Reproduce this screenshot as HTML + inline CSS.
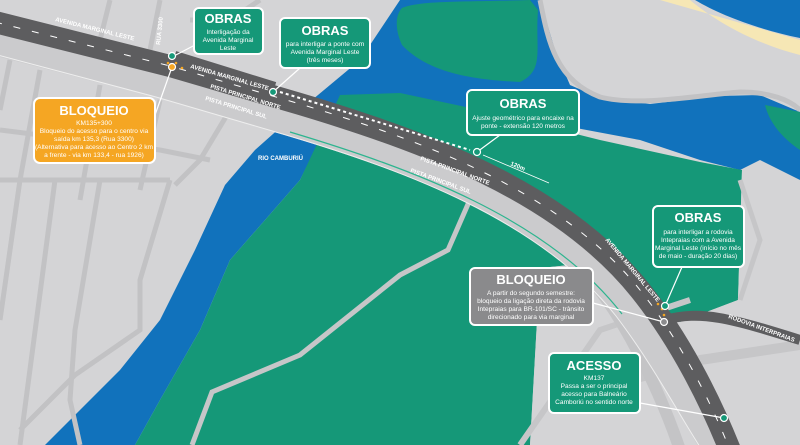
<!DOCTYPE html>
<html><head><meta charset="utf-8"><style>
html,body{margin:0;padding:0;width:800px;height:445px;overflow:hidden;background:#d4d4d6}
svg{display:block}
text{font-family:"Liberation Sans",sans-serif}
.t{font-size:13px;font-weight:bold;fill:#fff;text-anchor:middle}
.s{font-size:6.6px;fill:#fff;text-anchor:middle}
.r{font-size:6px;fill:#fff;font-weight:bold}
.l{font-size:6px;fill:#fff;font-weight:bold}
</style></head><body>
<svg width="800" height="445" viewBox="0 0 800 445">
<rect width="800" height="445" fill="#d4d4d6"/>
<!-- river -->
<path d="M400,0 L800,0 L800,180 L760,160 L740,170 L700,160 L640,140 L560,125 L480,110 L400,95 L330,120 L300,180 L230,260 L200,330 L160,400 L135,445 L45,445 L80,410 L120,370 L160,320 L195,250 L225,185 L255,150 L300,110 L360,60 Z" fill="#1172bc"/>
<!-- grey land top right -->
<path d="M540,0 L800,0 L800,112 L760,95 L720,96 L650,104 L600,98 L570,85 L555,50 Z" fill="#d4d4d6"/>
<path d="M540,0 C548,40 555,80 600,97 C640,107 700,95 740,92 C770,92 790,100 800,110" fill="none" stroke="#c2c2c4" stroke-width="5"/>
<path d="M660,0 L800,40 L800,55 C760,45 720,25 690,0 Z" fill="#f6e7b5"/>
<path d="M695,0 L800,0 L800,38 C760,30 720,15 695,0 Z" fill="#1172bc"/>
<path d="M765,105 L800,112 L800,150 C785,140 770,125 765,105 Z" fill="#159878"/>
<!-- green island -->
<path d="M402,8 C420,0 470,2 530,0 L538,10 C535,50 545,70 520,82 C480,80 430,75 402,45 C395,30 395,15 402,8 Z" fill="#159878"/>
<!-- main green -->
<path d="M340,95 L400,93 L480,110 L600,140 L700,162 L742,170 L738,300 L680,322 L640,300 L600,262 L540,268 L530,445 L135,445 L160,400 L200,330 L230,260 L300,180 Z" fill="#159878"/>
<!-- grey lower right -->
<path d="M742,170 L800,180 L800,445 L600,445 L600,262 L640,300 L680,322 L738,300 Z" fill="#d4d4d6"/>
<path d="M540,268 L600,262 L610,445 L530,445 Z" fill="#d4d4d6"/>
<path d="M520,445 L600,330 L690,300" fill="none" stroke="#c6c6c8" stroke-width="6"/>
<path d="M560,400 L700,360 L800,345" fill="none" stroke="#c6c6c8" stroke-width="10"/>
<path d="M740,180 L760,240 L740,300" fill="none" stroke="#c6c6c8" stroke-width="5"/>
<!-- left grey roads -->
<g fill="none" stroke="#c2c2c4" stroke-width="5">
<path d="M20,180 L0,320"/><path d="M55,180 L20,445"/><path d="M100,180 L75,330 L70,400 L80,445"/>
<path d="M170,180 L140,280 L140,330 L75,375 L20,430"/>
<path d="M10,60 L0,110"/><path d="M40,70 L20,180"/><path d="M100,85 L80,200"/><path d="M160,100 L140,190"/>
<path d="M0,130 L160,150 L210,160"/><path d="M0,180 L170,180"/>
<path d="M110,0 L100,40"/><path d="M160,0 L150,50"/><path d="M190,20 L230,20 L260,0"/>
<path d="M230,110 L200,160 L175,185"/>
</g>
<!-- green roads -->
<path d="M472,195 L448,250 L400,275 L300,355 L212,392 L192,445" fill="none" stroke="#c6c6c8" stroke-width="5"/>
<!-- branch road -->
<path d="M340,142 C440,150 560,220 620,320 C650,370 670,420 680,450" fill="none" stroke="#c4c4c6" stroke-width="12"/>
<!-- light band -->
<path d="M-10,40 L160,84 L290,122 C410,158 548,208 626,306 C664,356 694,410 716,450" fill="none" stroke="#cbcbcd" stroke-width="28"/>
<path d="M-10,53 L156,97 L286,135 C404,170 540,220 616,316 C654,366 682,420 702,450" fill="none" stroke="#eeeeee" stroke-width="1"/>
<path d="M290,132 C410,168 548,218 622,314" fill="none" stroke="#2db58f" stroke-width="1.2"/>
<!-- dark road -->
<path id="rd" d="M-5,22 L170,66 L300,104 C420,140 560,190 640,290 C680,340 710,400 730,450" fill="none" stroke="#5d5d5f" stroke-width="22"/>
<path d="M-5,22 L170,66 L300,104 C420,140 560,190 640,290 C680,340 710,400 730,450" fill="none" stroke="#fff" stroke-width="1" stroke-dasharray="7,12"/>
<path d="M280,92 L470,150" fill="none" stroke="#fff" stroke-width="2" stroke-dasharray="3,3"/>
<path d="M175,55 L275,86" fill="none" stroke="#5d5d5f" stroke-width="8"/>
<!-- interpraias -->
<path d="M665,320 C700,310 730,318 800,340" fill="none" stroke="#5d5d5f" stroke-width="10"/>
<!-- road labels -->
<text class="r" transform="translate(55,21) rotate(14)">AVENIDA MARGINAL LESTE</text>
<text class="r" transform="translate(190,68) rotate(16)" font-size="7">AVENIDA MARGINAL LESTE</text>
<text class="l" transform="translate(210,88) rotate(17)" font-size="4">PISTA PRINCIPAL NORTE</text>
<text class="l" transform="translate(205,100) rotate(17)" font-size="4">PISTA PRINCIPAL SUL</text>
<text class="l" transform="translate(420,160) rotate(20)" font-size="4">PISTA PRINCIPAL NORTE</text>
<text class="l" transform="translate(410,172) rotate(20)" font-size="4">PISTA PRINCIPAL SUL</text>
<text class="r" transform="translate(605,240) rotate(50)">AVENIDA MARGINAL LESTE</text>
<text class="r" transform="translate(728,318) rotate(20)" font-size="5.5">RODOVIA INTERPRAIAS</text>
<text class="r" transform="translate(160,45) rotate(-84)" fill="#fff">RUA 3300</text>
<text class="r" x="258" y="160">RIO CAMBURIÚ</text>
<path d="M483,155 L549,183" stroke="#fff" stroke-width="0.8"/>
<text class="l" transform="translate(510,165) rotate(23)" font-size="4">120m</text>
<!-- orange marks -->
<g fill="#f5a623"><circle cx="168" cy="63" r="1.3"/><circle cx="176" cy="63" r="1.3"/><circle cx="182" cy="68" r="1.3"/><circle cx="662" cy="309" r="1.3"/><circle cx="658" cy="304" r="1.3"/><circle cx="664" cy="315" r="1.3"/></g>
<!-- leader lines -->
<g stroke="#fff" stroke-width="1.2">
<line x1="172" y1="57" x2="195" y2="45"/><line x1="273" y1="92" x2="300" y2="68"/>
<line x1="172" y1="67" x2="155" y2="115"/><line x1="477" y1="152" x2="500" y2="135"/>
<line x1="665" y1="306" x2="682" y2="267"/><line x1="593" y1="303" x2="664" y2="322"/>
<line x1="640" y1="403" x2="724" y2="418"/>
</g>
<g stroke="#fff" stroke-width="1.2">
<circle cx="172" cy="56" r="3.5" fill="#159878"/><circle cx="172" cy="67" r="3.5" fill="#f5a623"/>
<circle cx="273" cy="92" r="3.5" fill="#159878"/><circle cx="477" cy="152" r="3.5" fill="#159878"/>
<circle cx="665" cy="306" r="3.5" fill="#159878"/><circle cx="664" cy="322" r="3.5" fill="#8a8a8c"/>
<circle cx="724" cy="418" r="3.5" fill="#159878"/>
</g>
<!-- callouts -->
<g stroke="#fff" stroke-width="2">
<rect x="194" y="8" width="69" height="46" rx="5" fill="#159878"/>
<rect x="280" y="18" width="90" height="50" rx="5" fill="#159878"/>
<rect x="34" y="98" width="121" height="65" rx="6" fill="#f5a623"/>
<rect x="467" y="90" width="112" height="45" rx="5" fill="#159878"/>
<rect x="653" y="206" width="91" height="61" rx="5" fill="#159878"/>
<rect x="470" y="268" width="123" height="57" rx="5" fill="#8a8a8c"/>
<rect x="549" y="353" width="91" height="60" rx="5" fill="#159878"/>
</g>
<text class="t" x="228" y="23">OBRAS</text>
<text class="s" x="228" y="34">Interligação da</text><text class="s" x="228" y="42">Avenida  Marginal</text><text class="s" x="228" y="50">Leste</text>
<text class="t" x="325" y="35">OBRAS</text>
<text class="s" x="325" y="46">para interligar a ponte com</text><text class="s" x="325" y="54">Avenida Marginal Leste</text><text class="s" x="325" y="62">(três meses)</text>
<text class="t" x="94" y="115" font-size="14">BLOQUEIO</text>
<text class="s" x="94" y="125">KM135+300</text><text class="s" x="94" y="133">Bloqueio do acesso para o centro via</text><text class="s" x="94" y="141">saída km 135,3 (Rua 3300)</text><text class="s" x="94" y="149">(Alternativa para acesso ao Centro 2 km</text><text class="s" x="94" y="157">a frente - via km 133,4 - rua 1926)</text>
<text class="t" x="523" y="108">OBRAS</text>
<text class="s" x="523" y="120">Ajuste geométrico para encaixe na</text><text class="s" x="523" y="128">ponte - extensão 120 metros</text>
<text class="t" x="698" y="222">OBRAS</text>
<text class="s" x="698" y="234">para interligar a rodovia</text><text class="s" x="698" y="242">Intepraias com a Avenida</text><text class="s" x="698" y="250">Marginal Leste (início no mês</text><text class="s" x="698" y="258">de maio - duração 20 dias)</text>
<text class="t" x="531" y="284">BLOQUEIO</text>
<text class="s" x="531" y="295">A partir do segundo semestre:</text><text class="s" x="531" y="303">bloqueio da ligação direta da rodovia</text><text class="s" x="531" y="311">Intepraias para BR-101/SC - trânsito</text><text class="s" x="531" y="319">direcionado para via marginal</text>
<text class="t" x="594" y="370">ACESSO</text>
<text class="s" x="594" y="380">KM137</text><text class="s" x="594" y="388">Passa a ser o principal</text><text class="s" x="594" y="396">acesso para Balneário</text><text class="s" x="594" y="404">Camboriú no sentido norte</text>
</svg>
</body></html>
